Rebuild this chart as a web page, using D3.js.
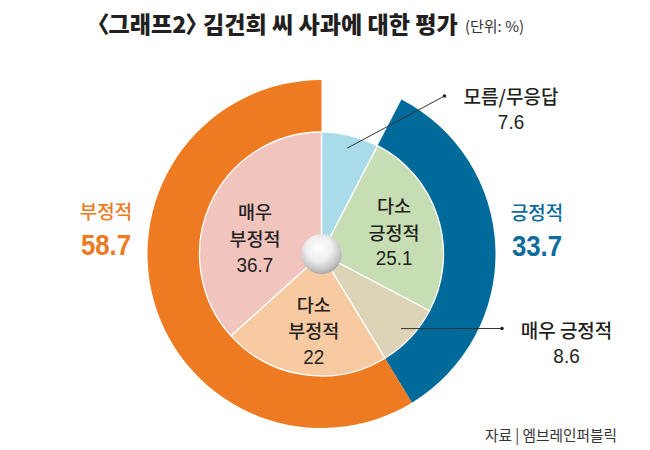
<!DOCTYPE html>
<html><head><meta charset="utf-8">
<script src="https://cdn.jsdelivr.net/npm/d3@7"></script>
<style>
html,body{margin:0;padding:0;background:#fff;}
svg{display:block;}
.kr{font-family:"Noto Sans CJK KR","Noto Sans",sans-serif;}
.num{font-family:"Liberation Sans",Arial,sans-serif;}
.palt{font-feature-settings:"palt" 1;}
</style>
</head><body>
<svg id="chart" width="650" height="450"></svg>
<script>
// ---- data ----
const innerCategories = ["모름/무응답", "다소 긍정적", "매우 긍정적", "다소 부정적", "매우 부정적"];
const innerValues = [7.6, 25.1, 8.6, 22, 36.7];
const outerCategories = ["모름/무응답", "긍정적", "부정적"];
const outerValues = [7.6, 33.7, 58.7];
const titleText = "〈그래프2〉 김건희 씨 사과에 대한 평가";
const unitText = "(단위: %)";
const sourceText = "자료 | 엠브레인퍼블릭";

// ---- styles / layout ----
const innerColors = ["#A9DBEA", "#C7DEB4", "#DDD4B7", "#F8CAA1", "#F2C4BE"];
const outerColors = [null, "#006A9A", "#EE7A22"];
const outerTextColors = [null, "#0E6C9C", "#EE7A22"];
const cx = 321.5, cy = 254, rIn = 122, rOut = 174, rHole = 20;

const svg = d3.select("#chart");
const defs = svg.append("defs");
const grad = defs.append("radialGradient").attr("id","ball")
  .attr("cx","45%").attr("cy","38%").attr("r","65%").attr("fx","42%").attr("fy","33%");
grad.append("stop").attr("offset","0%").attr("stop-color","#ffffff");
grad.append("stop").attr("offset","50%").attr("stop-color","#eeeeee");
grad.append("stop").attr("offset","82%").attr("stop-color","#c4c4c4");
grad.append("stop").attr("offset","100%").attr("stop-color","#9e9e9e");

const pie = d3.pie().sort(null).value(d => d);
const g = svg.append("g").attr("transform", `translate(${cx},${cy})`);

// outer ring
const outerArcs = pie(outerValues);
const outerArc = d3.arc().innerRadius(rIn - 0.5).outerRadius(rOut);
g.selectAll("path.outer").data(outerArcs.filter((d,i) => outerColors[i]))
  .join("path").attr("class","outer")
  .attr("d", outerArc)
  .attr("fill", d => outerColors[d.index]);

// inner pie
const innerArcs = pie(innerValues);
const innerArc = d3.arc().innerRadius(0).outerRadius(rIn);
g.selectAll("path.inner").data(innerArcs).join("path").attr("class","inner")
  .attr("d", innerArc)
  .attr("fill", d => innerColors[d.index])
  .attr("stroke", "#fff").attr("stroke-width", 1.3);

// center ball
g.append("circle").attr("r", rHole).attr("fill", "url(#ball)");

// ---- inner labels ----
const labelArc = d3.arc().innerRadius(75).outerRadius(75);
const innerLabelShift = {1: [1, 8], 3: [3, 10], 4: [2, 22]};
const lineGap = 26.5;
innerArcs.forEach((d, i) => {
  if (!innerLabelShift[i]) return;
  const [px, py] = labelArc.centroid(d);
  const x = px + innerLabelShift[i][0], y = py + innerLabelShift[i][1];
  const words = innerCategories[i].split(" ");
  words.forEach((w, k) => {
    g.append("text").attr("class","kr")
      .attr("x", x).attr("y", y + (k - 1) * lineGap)
      .attr("text-anchor","middle").attr("font-size", 18.5).attr("font-weight", 500)
      .attr("fill", "#231F20").text(w);
  });
  g.append("text").attr("class","num")
    .attr("transform", `translate(${x},${y + lineGap - 0.5}) scale(0.9,1)`)
    .attr("text-anchor","middle").attr("font-size", 21)
    .attr("fill", "#231F20").text(innerValues[i]);
});

// ---- callout labels (leader lines) ----
const leaderArc = d3.arc().innerRadius(109).outerRadius(109);
const callouts = [
  {i: 0, end: [444.5, 96], text: [511, 104]},
  {i: 2, end: [502, 328.5], text: [566.5, 338]}
];
callouts.forEach(c => {
  const [sx, sy] = leaderArc.centroid(innerArcs[c.i]);
  svg.append("line")
    .attr("x1", cx + sx).attr("y1", cy + sy)
    .attr("x2", c.end[0]).attr("y2", c.end[1])
    .attr("stroke", "#333").attr("stroke-width", 1);
  svg.append("circle").attr("cx", c.end[0]).attr("cy", c.end[1]).attr("r", 1.8).attr("fill", "#222");
  svg.append("text").attr("class","kr")
    .attr("x", c.text[0]).attr("y", c.text[1])
    .attr("text-anchor","middle").attr("font-size", 19).attr("font-weight", 500)
    .attr("fill", "#231F20").text(innerCategories[c.i]);
  svg.append("text").attr("class","num")
    .attr("transform", `translate(${c.text[0]},${c.text[1] + 24.5}) scale(0.9,1)`)
    .attr("text-anchor","middle").attr("font-size", 21)
    .attr("fill", "#231F20").text(innerValues[c.i]);
});

// ---- outer ring labels ----
const outerLabelPos = {1: [537, 220], 2: [106, 219]};
[1, 2].forEach(i => {
  const [x, y] = outerLabelPos[i];
  svg.append("text").attr("class","kr")
    .attr("x", x).attr("y", y)
    .attr("text-anchor","middle").attr("font-size", 19).attr("font-weight", 500)
    .attr("fill", outerTextColors[i]).text(outerCategories[i]);
  svg.append("text").attr("class","num")
    .attr("transform", `translate(${x},${y + 36}) scale(0.86,1)`)
    .attr("text-anchor","middle").attr("font-size", 30).attr("font-weight", 700)
    .attr("fill", outerTextColors[i]).text(outerValues[i]);
});

// ---- title / unit / source ----
const title = svg.append("text").attr("class","kr palt")
  .attr("font-size", 23).attr("font-weight", 900).attr("fill", "#231F20")
  .text(titleText);
const tb = title.node().getBBox();
const sx = 361 / tb.width;
title.attr("transform", `translate(${97 - tb.x * sx},33) scale(${sx},1)`);

svg.append("text").attr("class","kr")
  .attr("x", 465).attr("y", 32)
  .attr("font-size", 15).attr("font-weight", 400).attr("fill", "#333")
  .attr("textLength", 59).attr("lengthAdjust", "spacingAndGlyphs")
  .text(unitText);
svg.append("text").attr("class","kr")
  .attr("x", 485).attr("y", 441)
  .attr("font-size", 15).attr("font-weight", 400).attr("fill", "#333")
  .attr("textLength", 132).attr("lengthAdjust", "spacingAndGlyphs")
  .text(sourceText);
</script>
</body></html>
